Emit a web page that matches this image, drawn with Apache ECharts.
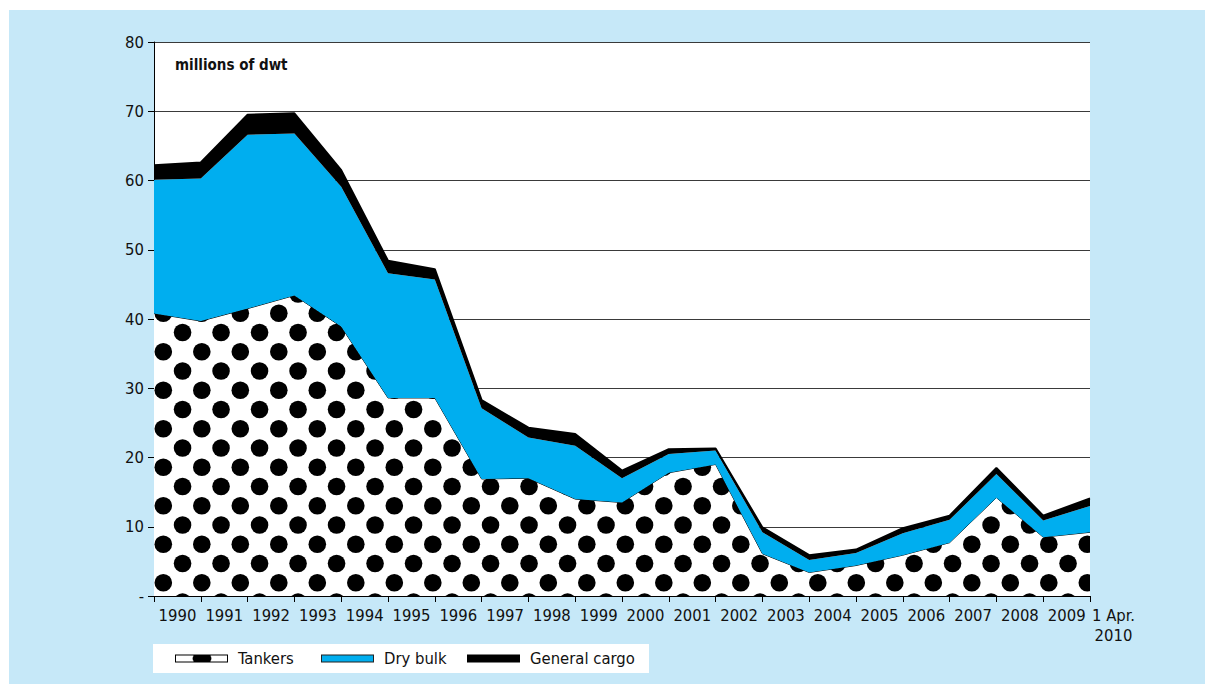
<!DOCTYPE html>
<html>
<head>
<meta charset="utf-8">
<script src="https://cdn.jsdelivr.net/npm/echarts@6/dist/echarts.min.js"></script>
<style>
html,body{margin:0;padding:0;background:#fff;}
#chart{position:absolute;left:0;top:0;width:1205px;height:684px;}
</style>
</head>
<body>
<div id="chart"></div>
<script>
// ---- data ----
var categories = ['1990','1991','1992','1993','1994','1995','1996','1997','1998','1999','2000','2001','2002','2003','2004','2005','2006','2007','2008','2009','1 Apr.\n2010'];
var tankers = [40.8, 39.7, 41.5, 43.4, 38.9, 28.6, 28.6, 16.9, 17.0, 14.0, 13.5, 17.8, 19.0, 6.1, 3.4, 4.4, 5.9, 7.7, 14.2, 8.5, 9.2];
var dryBulk = [19.3, 20.6, 25.1, 23.4, 20.2, 18.0, 17.1, 10.2, 5.9, 7.7, 3.5, 2.7, 2.0, 3.1, 1.8, 1.8, 3.15, 3.3, 3.4, 2.4, 3.8];
var generalCargo = [2.1, 2.3, 2.9, 2.9, 2.4, 1.8, 1.5, 1.2, 1.4, 1.7, 1.1, 0.7, 0.3, 0.7, 0.7, 0.5, 0.75, 0.6, 0.9, 0.7, 1.1];
var yTicks = [0, 10, 20, 30, 40, 50, 60, 70, 80];
var seriesNames = ['Tankers', 'Dry bulk', 'General cargo'];
var unitLabel = 'millions of dwt';

// ---- styles ----
var FONT = "'DejaVu Sans Condensed', 'Liberation Sans', sans-serif";
var BLUE = '#00aeef';
var PANEL = '#c6e8f8';

// dot pattern tile
function makeDots() {
  var c = document.createElement('canvas');
  c.width = 77; c.height = 77;
  var g = c.getContext('2d');
  g.fillStyle = '#fff';
  g.fillRect(0, 0, 77, 77);
  g.fillStyle = '#000';
  var p = 38.5, h = 19.25, r = 8.8;
  var pts = [];
  for (var i = -1; i <= 2; i++) {
    for (var j = -1; j <= 2; j++) {
      pts.push([9.3 + i * p, 5.2 + j * p]);
      pts.push([9.3 + h + i * p, 5.2 + h + j * p]);
    }
  }
  pts.forEach(function (q) {
    g.beginPath();
    g.arc(q[0], q[1], r, 0, Math.PI * 2);
    g.fill();
  });
  return c;
}
function makeIcon(kind) {
  var c = document.createElement('canvas');
  c.width = 53; c.height = 8;
  var g = c.getContext('2d');
  if (kind === 0) {
    g.fillStyle = '#fff'; g.fillRect(0, 0, 53, 8);
    g.save(); g.beginPath(); g.rect(0, 0, 53, 8); g.clip();
    g.fillStyle = '#000'; g.beginPath(); g.ellipse(27, 4, 9.5, 6, 0, 0, Math.PI * 2); g.fill();
    g.restore();
    g.strokeStyle = '#000'; g.lineWidth = 1; g.strokeRect(0.5, 0.5, 52, 7);
  } else if (kind === 1) {
    g.fillStyle = BLUE; g.fillRect(0, 0, 53, 8);
    g.strokeStyle = '#222'; g.lineWidth = 1; g.strokeRect(0.5, 0.5, 52, 7);
  } else {
    g.fillStyle = '#000'; g.fillRect(0, 0, 53, 8);
  }
  return 'image://' + c.toDataURL();
}
var dots = makeDots();

var chart = echarts.init(document.getElementById('chart'), null, {renderer: 'svg', width: 1205, height: 684});

var legendLefts = [175, 321, 467];
var legends = seriesNames.map(function (n, i) {
  return {
    left: legendLefts[i], top: 650, padding: 0,
    itemWidth: 53, itemHeight: 8,
    selectedMode: false,
    data: [{name: n, icon: makeIcon(i)}],
    textStyle: {fontFamily: FONT, fontSize: 16.5, color: '#111', padding: [0, 0, 0, 5]}
  };
});

var option = {
  animation: false,
  backgroundColor: '#fff',
  graphic: [
    {type: 'rect', z: -10, silent: true, shape: {x: 9, y: 10, width: 1196, height: 674}, style: {fill: PANEL}},
    {type: 'rect', z: -5, silent: true, shape: {x: 153, y: 644, width: 496, height: 29}, style: {fill: '#fff'}}
  ],
  title: {
    text: unitLabel, left: 175, top: 57, padding: 0,
    textStyle: {fontFamily: FONT, fontSize: 15, fontWeight: 'bold', color: '#111'}
  },
  legend: legends,
  grid: {left: 154, top: 42, right: 115, bottom: 88, show: true, backgroundColor: '#fff', borderWidth: 0, containLabel: false},
  xAxis: {
    type: 'category', data: categories, boundaryGap: false,
    axisLine: {lineStyle: {color: '#000', width: 1}},
    axisTick: {show: true, interval: 0, length: 6, lineStyle: {color: '#000'}},
    axisLabel: {
      interval: 0, margin: 9, color: '#111', fontFamily: FONT, fontSize: 16.5, lineHeight: 20,
      padding: [0, 0, 0, 47], align: 'center'
    },
    splitLine: {show: false}
  },
  yAxis: {
    type: 'value', min: yTicks[0], max: yTicks[yTicks.length - 1], interval: 10,
    axisLine: {show: true, lineStyle: {color: '#000', width: 1}},
    axisTick: {show: true, length: 6, lineStyle: {color: '#000'}},
    axisLabel: {
      margin: 10, color: '#111', fontFamily: FONT, fontSize: 16.5,
      formatter: function (v) { return v === 0 ? '-' : String(v); }
    },
    splitLine: {show: true, lineStyle: {color: '#3a3a3a', width: 1}}
  },
  series: [
    {
      name: seriesNames[0], type: 'line', stack: 'all', data: tankers, symbol: 'none',
      lineStyle: {color: '#000', width: 1},
      areaStyle: {color: {image: dots, repeat: 'repeat'}, opacity: 1},
      itemStyle: {color: '#000'}, z: 2
    },
    {
      name: seriesNames[1], type: 'line', stack: 'all', data: dryBulk, symbol: 'none',
      lineStyle: {color: BLUE, width: 0, opacity: 0},
      areaStyle: {color: BLUE, opacity: 1},
      itemStyle: {color: BLUE}, z: 3
    },
    {
      name: seriesNames[2], type: 'line', stack: 'all', data: generalCargo, symbol: 'none',
      lineStyle: {color: '#000', width: 2},
      areaStyle: {color: '#000', opacity: 1},
      itemStyle: {color: '#000'}, z: 4
    }
  ]
};
chart.setOption(option);
</script>
</body>
</html>
